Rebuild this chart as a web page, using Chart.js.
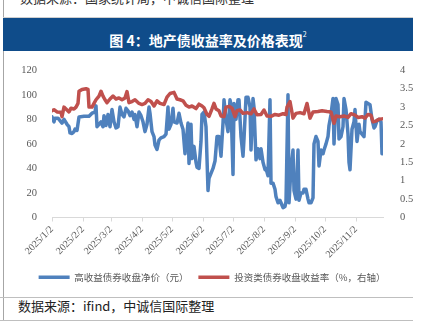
<!DOCTYPE html>
<html><head><meta charset="utf-8">
<script src="https://cdn.jsdelivr.net/npm/chart.js@4"></script>
<style>
html,body{margin:0;padding:0;background:#fff;}
body{width:424px;height:331px;position:relative;overflow:hidden;font-family:"Noto Sans CJK SC",sans-serif;}
.abs{position:absolute;}
#topsrc{left:20px;top:-10px;font-size:13px;color:#333;white-space:nowrap;line-height:16px;}
#vline{left:3px;top:0;width:1px;height:321px;background:#a6a6a6;}
#banner{left:3px;top:17px;width:410px;height:33px;background:#0F4C8A;border-top:1px solid #cfcfcf;color:#fff;font-weight:bold;font-size:14px;line-height:33px;text-align:center;}
#banner sup{font-size:7px;vertical-align:9px;font-weight:normal;}
#wrap{left:0;top:55px;width:424px;height:237px;}
#sep1{left:0;top:297px;width:413px;height:1px;background:#bfbfbf;}
#botsrc{left:18px;top:297px;font-size:13px;color:#222;white-space:nowrap;line-height:18px;}
#sep2{left:0;top:320px;width:413px;height:1px;background:#bfbfbf;}
</style></head>
<body>
<div id="topsrc" class="abs">数据来源：国家统计局，中诚信国际整理</div>
<div id="vline" class="abs"></div>
<div id="banner" class="abs">图 4：地产债收益率及价格表现<sup>2</sup></div>
<div id="wrap" class="abs"><canvas id="c" width="424" height="237"></canvas></div>
<div id="sep1" class="abs"></div>
<div id="botsrc" class="abs">数据来源：ifind，中诚信国际整理</div>
<div id="sep2" class="abs"></div>
<script>
// x tick labels (dates)
const tickLabels = ['2025/1/2','2025/2/2','2025/3/2','2025/4/2','2025/5/2','2025/6/2','2025/7/2','2025/8/2','2025/9/2','2025/10/2','2025/11/2'];
const startDate = '2025/1/2';
const endDay = 331; // days after start where the axis ends (late Nov)
const leftTicks = [0,20,40,60,80,100,120];
const rightTicks = [0,0.5,1,1.5,2,2.5,3,3.5,4];
const seriesNames = ['高收益债券收盘净价（元）','投资类债券收盘收益率（%，右轴）'];

// High-yield bond clean price (days after 2025/1/2, values in yuan)
const hyDays = [0,2,3,6,8,10,12,15,17,18,20,22,23,25,27,32,37,40,43,44,45,47,49,51,52,54,56,58,60,62,64,66,68,70,72,74,76,78,80,82,83,85,87,89,91,93,95,97,98,100,102,103,105,107,109,112,114,116,117,119,121,122,125,127,129,131,133,134,136,137,139,140,142,144,145,147,149,150,152,154,156,157,159,161,163,165,167,169,171,172,174,176,178,179,181,182,184,186,187,189,191,192,194,196,198,199,201,202,204,206,208,209,211,213,214,216,218,219,221,223,224,226,228,229,231,233,234,236,237,239,241,242,244,246,247,249,251,252,254,256,257,259,261,262,264,266,267,269,271,272,274,276,277,279,281,282,284,286,287,289,291,292,294,296,297,298,300,302,303,305,307,308,310,312,314,316,318,320,322,323,325,327,329,330];
const hyPrice = [82,78,81,81,79,77,80,76,74,69,68.5,70,72,71,82,82.5,82.5,85,86,91,74,76,78,74,83,75,84,74,88,78,73,74,90,84,82,89,87,83,86,80,84,74,86,83,78,70,76,90,85,70,66,59,55.5,63,65,66,68,90,72,76,89,78,77,85,77,72,52,60,77,44,76,48,58,45,41,40,62,84,86,74,22,32,36,40,46,66,66,50,77,96,80,70,96,92,35,93,80,96,96,66,50,64,98,98,90,55,97,90,47,56,48,56,45,39,40,34,96,28,28,23,17,12,14,12,8,9,13,100,12,40,55,22,15,55,14,20,20,23,23,15,12,12,16,60,66,62,42,55,52,55,60,66,75,84,97,60,97,92,64,66,74,97,88,68,45,39,72,78,88,62,76,70,68,66,94,93,92,80,73,74,79,80,78,52];

// Investment-grade bond closing yield (days after 2025/1/2, %)
const igDays = [0,2,5,9,10,12,14,17,19,22,24,26,27,30,34,36,37,40,42,44,47,49,51,53,55,58,61,64,67,70,73,75,77,80,83,87,90,93,96,99,102,105,108,112,115,118,122,125,128,131,134,137,140,144,147,150,152,155,157,160,162,164,167,169,172,174,177,180,183,185,188,191,195,199,202,205,209,212,215,219,223,227,231,234,235,238,241,244,248,252,255,258,261,266,270,275,279,282,284,288,292,296,299,303,306,310,313,316,319,321,324,327,330];
const igYield = [2.9,2.93,2.87,2.86,2.74,3.0,2.95,2.87,2.97,2.95,3.0,3.1,3.43,3.48,3.5,3.48,3.0,3.0,3.1,3.2,3.3,3.43,3.3,3.2,3.12,3.22,3.3,3.22,3.25,3.2,3.25,3.42,3.12,3.15,3.2,3.1,3.07,3.1,3.2,3.15,3.03,3.17,3.1,3.07,3.27,3.37,3.4,3.22,3.2,3.17,3.05,3.0,3.03,2.96,3.08,3.03,2.98,2.8,2.75,2.95,3.1,2.95,2.9,2.76,2.74,3.0,3.02,2.97,2.74,2.9,2.92,2.83,2.85,2.82,2.95,2.79,2.8,2.92,2.76,2.75,2.8,2.78,2.82,2.8,3.0,3.15,2.7,2.83,2.85,2.82,3.1,2.7,2.87,2.88,2.9,2.88,2.87,2.56,2.76,2.74,2.76,2.72,2.82,2.78,2.72,2.74,2.7,2.8,2.78,2.6,2.62,2.67,2.68];

function dayOf(s){const p=s.split('/').map(Number);const q=startDate.split('/').map(Number);return Math.round((Date.UTC(p[0],p[1]-1,p[2])-Date.UTC(q[0],q[1]-1,q[2]))/86400000);}
const tickDays = tickLabels.map(dayOf);
const labelByDay = {}; tickDays.forEach((d,i)=>labelByDay[d]=tickLabels[i]);

const serif = "Liberation Serif, Times New Roman, serif";
const gray = '#595959';
new Chart(document.getElementById('c'), {
  type:'line',
  data:{datasets:[
    {label:seriesNames[0], data:hyDays.map((d,i)=>({x:d,y:hyPrice[i]})), yAxisID:'y', borderColor:'#4F81BD', backgroundColor:'#4F81BD', borderWidth:3.5, pointRadius:0, pointStyle:'line', tension:0, borderJoinStyle:'round', borderCapStyle:'round', order:1},
    {label:seriesNames[1], data:igDays.map((d,i)=>({x:d,y:igYield[i]})), yAxisID:'y1', borderColor:'#C0504D', backgroundColor:'#C0504D', borderWidth:3.5, pointRadius:0, pointStyle:'line', tension:0, borderJoinStyle:'round', borderCapStyle:'round', order:0}
  ]},
  options:{
    responsive:false, animation:false, devicePixelRatio:1,
    layout:{padding:{top:13,left:0,right:0,bottom:0}},
    plugins:{
      tooltip:{enabled:false},
      legend:{position:'bottom', labels:{usePointStyle:true, pointStyleWidth:31, boxHeight:9, padding:10, color:gray, font:{family:"'Noto Sans CJK SC',sans-serif", size:9.5}, sort:(a,b)=>a.datasetIndex-b.datasetIndex}}
    },
    scales:{
      x:{type:'linear', min:0, max:endDay,
        afterBuildTicks:(s)=>{s.ticks = tickDays.map(v=>({value:v}));},
        afterFit:(s)=>{s.height=45;},
        ticks:{autoSkip:false, maxRotation:45, minRotation:45, padding:2, color:gray, font:{family:serif, size:10}, callback:(v)=>labelByDay[v]||''},
        grid:{display:true, drawOnChartArea:false, drawTicks:true, tickLength:4, color:'#d9d9d9'},
        border:{display:true, color:'#d9d9d9', width:1}
      },
      y:{position:'left', min:0, max:120,
        afterBuildTicks:(s)=>{s.ticks = leftTicks.map(v=>({value:v}));},
        afterFit:(s)=>{s.width=52;},
        ticks:{padding:7, color:gray, font:{family:serif, size:10.5}, callback:(v)=>String(v)},
        grid:{display:false}, border:{display:false}
      },
      y1:{position:'right', min:0, max:4,
        afterBuildTicks:(s)=>{s.ticks = rightTicks.map(v=>({value:v}));},
        afterFit:(s)=>{s.width=41;},
        ticks:{padding:9, color:gray, font:{family:serif, size:10.5}, callback:(v)=>String(v)},
        grid:{display:false}, border:{display:false}
      }
    }
  }
});
</script>
</body></html>
